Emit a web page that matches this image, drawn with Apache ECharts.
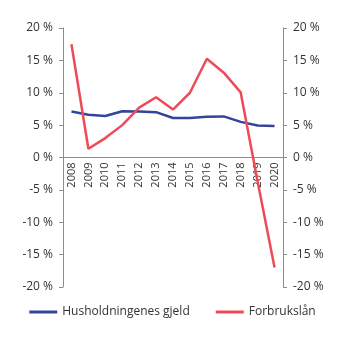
<!DOCTYPE html>
<html>
<head>
<meta charset="utf-8">
<script src="https://cdn.jsdelivr.net/npm/echarts@6/dist/echarts.min.js"></script>
<style>
  html, body { margin: 0; padding: 0; background: #fff; }
  #chart { width: 345px; height: 341px; }
</style>
</head>
<body>
<div id="chart"></div>
<script>
// Annual growth, percent
const years = ['2008','2009','2010','2011','2012','2013','2014','2015','2016','2017','2018','2019','2020'];
const husholdningenesGjeld = [7.1, 6.6, 6.4, 7.15, 7.1, 7.0, 6.1, 6.1, 6.3, 6.35, 5.5, 4.95, 4.85];
const forbrukslan = [17.5, 1.35, 3.0, 5.0, 7.7, 9.3, 7.4, 10.0, 15.25, 13.1, 10.05, -3.7, -17.0];
const seriesNames = ['Husholdningenes gjeld', 'Forbrukslån'];

const font = '"Open Sans", "Noto Sans", sans-serif';
const textColor = '#333';
const axisColor = '#8c8c8c';

const gridTop = 28;
const gridBottom = 54;
const chartHeight = 341;
// category axis sits on the 0 % line, halfway down the symmetric value range
const zeroOffset = -(chartHeight - gridTop - gridBottom) / 2;

const valueAxis = (pos) => ({
  type: 'value',
  position: pos,
  min: -20,
  max: 20,
  interval: 5,
  axisLine: { show: true, lineStyle: { color: axisColor, width: 1 } },
  axisTick: { show: true, length: 4, lineStyle: { color: axisColor } },
  splitLine: { show: false },
  axisLabel: {
    formatter: '{value} %',
    color: textColor,
    fontFamily: font,
    fontSize: 12,
    margin: 10
  }
});

const chart = echarts.init(document.getElementById('chart'), null, { renderer: 'canvas' });
chart.setOption({
  animation: false,
  grid: { left: 63, right: 62, top: gridTop, bottom: gridBottom, containLabel: false },
  legend: {
    bottom: 18,
    left: 'center',
    itemWidth: 28,
    itemHeight: 3,
    itemGap: 26,
    icon: 'rect',
    textStyle: { color: textColor, fontFamily: font, fontSize: 12 },
    data: seriesNames
  },
  xAxis: {
    type: 'category',
    data: years,
    boundaryGap: true,
    position: 'bottom',
    offset: zeroOffset,
    axisLine: { onZero: false, lineStyle: { color: axisColor, width: 1 } },
    axisTick: { show: false },
    axisLabel: {
      rotate: 90,
      interval: 0,
      color: textColor,
      fontFamily: font,
      fontSize: 11,
      margin: 5
    }
  },
  yAxis: [valueAxis('left'), valueAxis('right')],
  series: [
    {
      name: seriesNames[0],
      type: 'line',
      data: husholdningenesGjeld,
      symbol: 'none',
      lineStyle: { color: '#35449b', width: 2.5 },
      itemStyle: { color: '#35449b' }
    },
    {
      name: seriesNames[1],
      type: 'line',
      data: forbrukslan,
      symbol: 'none',
      lineStyle: { color: '#ee4a57', width: 2.5 },
      itemStyle: { color: '#ee4a57' }
    }
  ]
});
</script>
</body>
</html>
